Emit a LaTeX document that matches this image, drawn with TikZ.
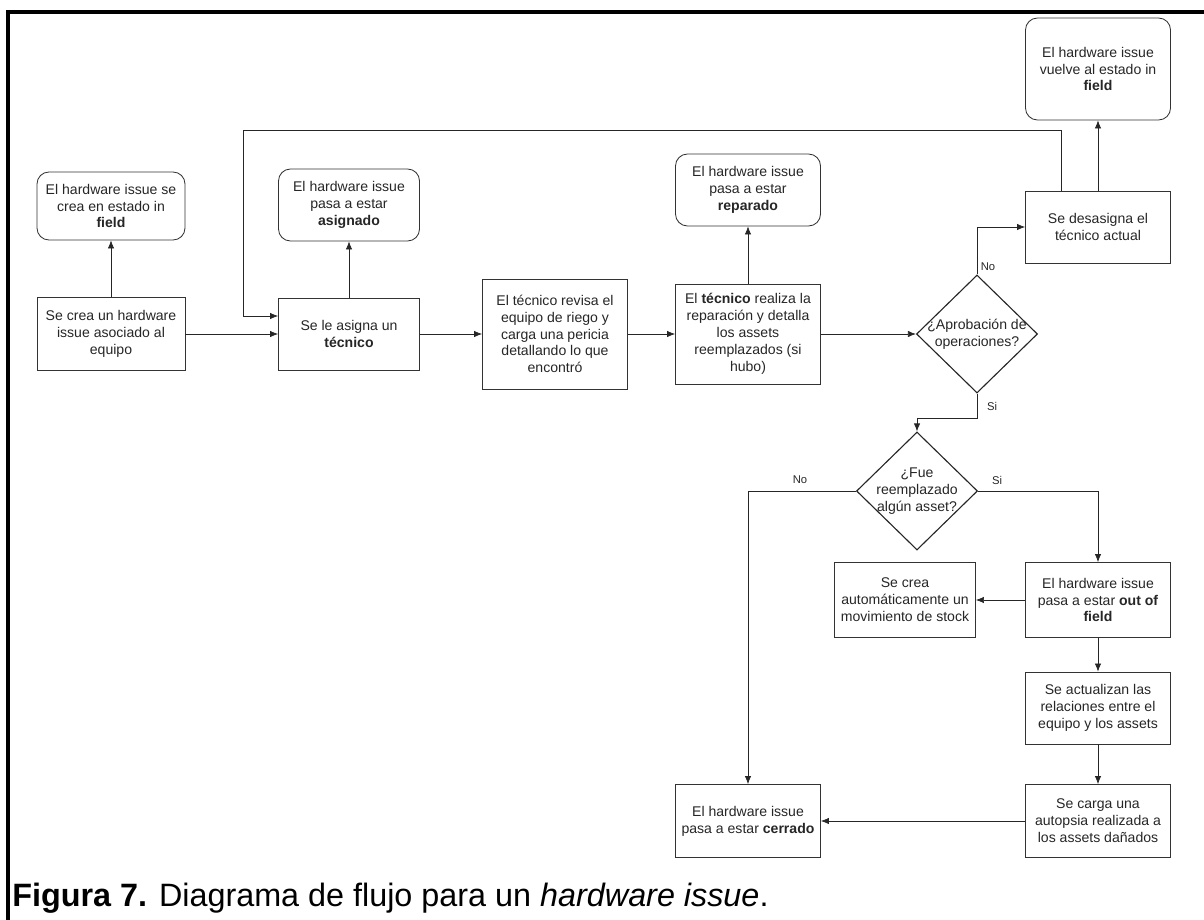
\documentclass[tikz,border=0pt]{standalone}
\usepackage{fontspec}
\setmainfont{Liberation Sans}
\usetikzlibrary{shapes.geometric,arrows.meta,calc}

\begin{document}
\begin{tikzpicture}[x=0.025cm,y=-0.025cm,
  proc/.style={draw=black!80,line width=0.6pt,rectangle,minimum width=3.625cm,align=center,inner sep=1pt,text=black!85,font=\fontsize{10}{12}\selectfont},
  estado/.style={proc,rounded corners=0.3cm},
  decision/.style={draw=black!85,line width=0.8pt,diamond,minimum width=3.025cm,minimum height=2.95cm,inner sep=0pt},
  flow/.style={draw=black!85,line width=0.5pt,-{Latex[length=2mm,width=1.6mm]}},
  resp/.style={font=\fontsize{8}{9}\selectfont,inner sep=1pt,text=black!85}]

\useasboundingbox (0,0) rectangle (1204,920) ;

%frame
\draw [line width=2.2pt] (8,920) -- (8,12) -- (1204,12) ;

%first column
\node [estado,minimum width=3.7cm,minimum height=1.7cm] (infield) at (111,206) {El hardware issue se\\crea en estado in\\\textbf{field}} ;
\node [proc,minimum width=3.7cm,minimum height=1.825cm] (creaissue) at (111,334) {Se crea un hardware\\issue asociado al\\equipo} ;

%second column
\node [estado,minimum width=3.525cm,minimum height=1.8cm] (asignado) at (349,205) {El hardware issue\\pasa a estar\\\textbf{asignado}} ;
\node [proc,minimum width=3.525cm,minimum height=1.8cm] (asigna) at (349,334) {Se le asigna un\\\textbf{técnico}} ;

%pericia and reparacion
\node [proc,minimum height=2.75cm] (revisa) at (555,334) {El técnico revisa el\\equipo de riego y\\carga una pericia\\detallando lo que\\encontró} ;
\node [proc,minimum height=2.5cm] (repara) at (748,334) {El \textbf{técnico} realiza la\\reparación y detalla\\los assets\\reemplazados (si\\hubo)} ;
\node [estado,minimum height=1.8cm] (reparado) at (748,190) {El hardware issue\\pasa a estar\\\textbf{reparado}} ;

%aprobacion
\node [decision] (aprob) at (977,334) {} ;
\node [align=center,inner sep=0pt,text=black!85,font=\fontsize{10}{12}\selectfont] (aprobtxt) at (aprob) {¿Aprobación de\\operaciones?} ;
\node [proc,minimum height=1.8cm] (desasig) at (1098,227) {Se desasigna el\\técnico actual} ;
\node [estado,minimum height=2.55cm] (vuelve) at (1098,69) {El hardware issue\\vuelve al estado in\\\textbf{field}} ;

%reemplazo
\node [decision] (reempl) at (917,491) {} ;
\node [align=center,inner sep=0pt,text=black!85,font=\fontsize{10}{12}\selectfont] (reempltxt) at (reempl) {¿Fue\\reemplazado\\algún asset?} ;
\node [proc,minimum height=1.875cm] (outfield) at (1098,600) {El hardware issue\\pasa a estar \textbf{out of}\\\textbf{field}} ;
\node [proc,minimum width=3.525cm,minimum height=1.875cm] (stock) at (905,600) {Se crea\\automáticamente un\\movimiento de stock} ;
\node [proc,minimum height=1.8cm] (actualiza) at (1098,708) {Se actualizan las\\relaciones entre el\\equipo y los assets} ;
\node [proc,minimum height=1.825cm] (autopsia) at (1098,821) {Se carga una\\autopsia realizada a\\los assets dañados} ;
\node [proc,minimum height=1.825cm] (cerrado) at (748,821) {El hardware issue\\pasa a estar \textbf{cerrado}} ;

%answer labels
\node [resp] (nolbla) at (988,267) {No} ;
\node [resp] (silbla) at (992,406) {Si} ;
\node [resp] (nolblb) at (800,480) {No} ;
\node [resp] (silblb) at (997,480) {Si} ;

%connectors
\draw [flow] (creaissue.north) -- (infield.south) ;
\draw [flow] (creaissue.east) -- (asigna.west) ;
\draw [flow] (asigna.north) -- (asignado.south) ;
\draw [flow] (asigna.east) -- (revisa.west) ;
\draw [flow] (revisa.east) -- (repara.west) ;
\draw [flow] (repara.north) -- (reparado.south) ;
\draw [flow] (repara.east) -- (aprob.west) ;
\draw [flow] (aprob.north) |- (desasig.west) ;
\draw [flow] (desasig.north) -- (vuelve.south) ;

%back to asignar
\coordinate (loopcorner) at (243,130) ;
\draw [flow] ($(desasig.north)+(-37,0)$) |- (loopcorner) |- ($(asigna.west)+(0,-18)$) ;

%second question
\coordinate (bend) at (977,418) ;
\draw [flow] (aprob.south) -- (bend) -| (reempl.north) ;
\draw [flow] (reempl.west) -| (cerrado.north) ;
\draw [flow] (reempl.east) -| (outfield.north) ;
\draw [flow] (outfield.west) -- (stock.east) ;
\draw [flow] (outfield.south) -- (actualiza.north) ;
\draw [flow] (actualiza.south) -- (autopsia.north) ;
\draw [flow] (autopsia.west) -- (cerrado.east) ;

%caption
\node [anchor=base west,inner sep=0pt,font=\fontsize{23}{27}\selectfont] (caption) at (12,906) {\textbf{Figura 7.} Diagrama de flujo para un \textit{hardware issue}.} ;

\end{tikzpicture}
\end{document}
